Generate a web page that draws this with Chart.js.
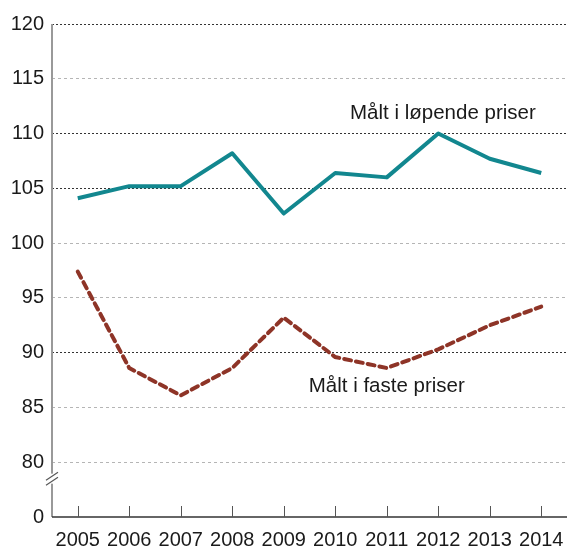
<!DOCTYPE html>
<html>
<head>
<meta charset="utf-8">
<script src="https://cdn.jsdelivr.net/npm/chart.js@4"></script>
<style>
  html, body { margin: 0; padding: 0; background: #fff; }
  #wrap { width: 567px; height: 546px; }
</style>
</head>
<body>
<div id="wrap"><canvas id="chart"></canvas></div>
<script>
const years = ['2005', '2006', '2007', '2008', '2009', '2010', '2011', '2012', '2013', '2014'];
const lopende = [104.1, 105.2, 105.2, 108.2, 102.7, 106.4, 106.0, 110.0, 107.7, 106.4];
const faste = [97.4, 88.6, 86.1, 88.6, 93.2, 89.6, 88.6, 90.3, 92.5, 94.2];
const darkGrid = [120, 110, 105, 90];

// labels placed at (category index, value)
const notes = [
    { text: 'Målt i løpende priser', x: 7.09, y: 111.8 },
    { text: 'Målt i faste priser', x: 6.0, y: 86.9 }
];

const FONT = '"Liberation Sans", Arial, sans-serif';

const extras = {
    id: 'extras',
    afterDatasetsDraw(chart) {
        const ctx = chart.ctx;
        const xs = chart.scales.x;
        const ys = chart.scales.y;
        const area = chart.chartArea;
        ctx.save();
        // y axis line
        ctx.strokeStyle = '#999';
        ctx.lineWidth = 2;
        ctx.beginPath();
        ctx.moveTo(area.left, area.top);
        ctx.lineTo(area.left, area.bottom);
        ctx.stroke();
        // x axis line
        ctx.strokeStyle = '#333';
        ctx.lineWidth = 1.5;
        ctx.beginPath();
        ctx.moveTo(area.left, area.bottom);
        ctx.lineTo(area.right, area.bottom);
        ctx.stroke();
        // x tick marks pointing up
        ctx.strokeStyle = '#555';
        ctx.lineWidth = 1;
        years.forEach((y, i) => {
            const px = Math.round(xs.getPixelForValue(i)) + 0.5;
            ctx.beginPath();
            ctx.moveTo(px, area.bottom - 11);
            ctx.lineTo(px, area.bottom);
            ctx.stroke();
        });
        // axis break
        const bx = area.left;
        const by = ys.getPixelForValue(78.5);
        ctx.fillStyle = '#fff';
        ctx.fillRect(bx - 3, by - 5, 6, 10);
        ctx.strokeStyle = '#555';
        ctx.lineWidth = 1.2;
        [-2.5, 2.5].forEach(d => {
            ctx.beginPath();
            ctx.moveTo(bx - 6, by + d + 4);
            ctx.lineTo(bx + 6, by + d - 4);
            ctx.stroke();
        });
        // annotations
        ctx.fillStyle = '#1a1a1a';
        ctx.font = '20.5px ' + FONT;
        ctx.textAlign = 'center';
        ctx.textBaseline = 'middle';
        notes.forEach(n => {
            ctx.fillText(n.text, xs.getPixelForValue(n.x), ys.getPixelForValue(n.y));
        });
        ctx.restore();
    }
};

new Chart(document.getElementById('chart'), {
    type: 'line',
    data: {
        labels: years,
        datasets: [
            {
                label: 'Målt i løpende priser',
                data: lopende,
                borderColor: '#12878f',
                borderWidth: 4,
                pointRadius: 0,
                tension: 0,
                borderJoinStyle: 'round'
            },
            {
                label: 'Målt i faste priser',
                data: faste,
                borderColor: '#8e3427',
                borderWidth: 4,
                borderDash: [7, 5],
                borderCapStyle: 'round',
                pointRadius: 0,
                tension: 0
            }
        ]
    },
    options: {
        responsive: true,
        maintainAspectRatio: false,
        animation: false,
        layout: { padding: { top: 24, right: 0, left: 0, bottom: 0 } },
        plugins: {
            legend: { display: false },
            tooltip: { enabled: false }
        },
        scales: {
            x: {
                offset: true,
                grid: { display: false },
                border: { display: false },
                ticks: {
                    color: '#1a1a1a',
                    font: { family: FONT, size: 20 },
                    padding: 3,
                    maxRotation: 0
                },
                afterFit(s) { s.height = 29; }
            },
            y: {
                min: 75,
                max: 120,
                ticks: {
                    stepSize: 5,
                    color: '#1a1a1a',
                    padding: 8,
                    font: { family: FONT, size: 20 },
                    callback: v => v === 75 ? '0' : v
                },
                grid: {
                    drawTicks: false,
                    lineWidth: 1,
                    color: c => {
                        const v = c.tick.value;
                        if (v === 75) return 'rgba(0,0,0,0)';
                        return darkGrid.includes(v) ? '#333' : '#b5b5b5';
                    }
                },
                border: {
                    display: false,
                    dash: c => darkGrid.includes(c.tick && c.tick.value) ? [2, 2] : [3, 3]
                },
                afterFit(s) { s.width = 52; }
            }
        }
    },
    plugins: [extras]
});
</script>
</body>
</html>
